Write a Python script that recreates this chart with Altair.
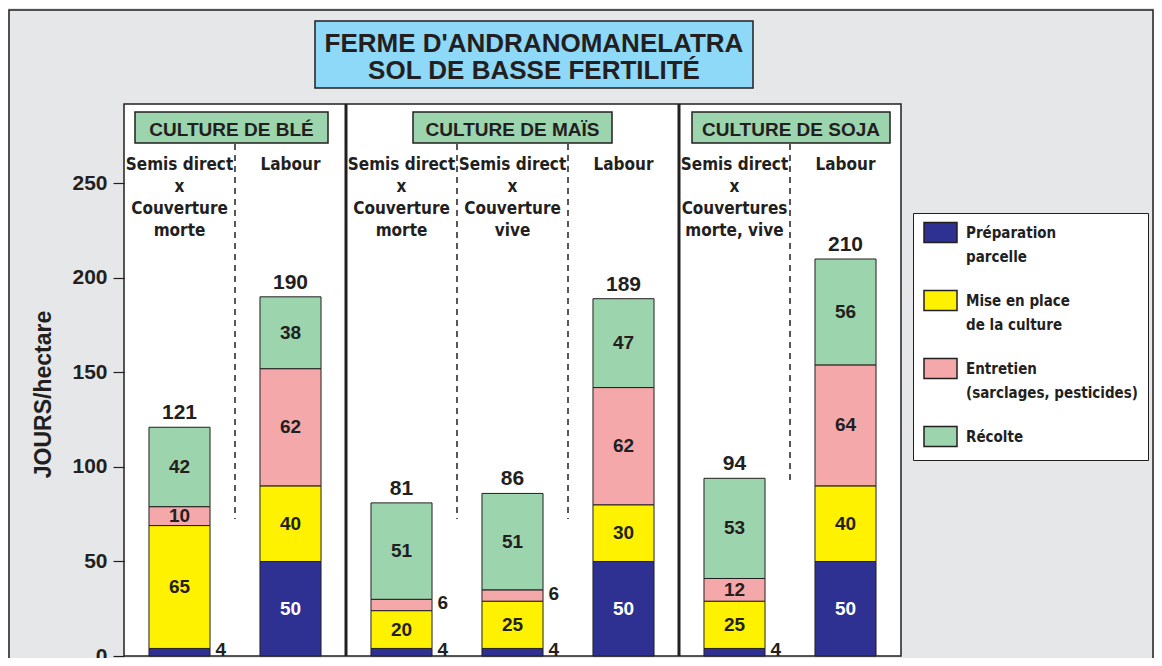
import altair as alt
import pandas as pd

# ---------------- data ----------------
keys = ["ble_sd", "ble_lab", "mais_sdm", "mais_sdv", "mais_lab", "soja_sd", "soja_lab"]
treatments = [
    "Semis direct\nx\nCouverture\nmorte",
    "Labour",
    "Semis direct\nx\nCouverture\nmorte",
    "Semis direct\nx\nCouverture\nvive",
    "Labour",
    "Semis direct\nx\nCouvertures\nmorte, vive",
    "Labour",
]
cultures = ["CULTURE DE BLÉ", "CULTURE DE MAÏS", "CULTURE DE SOJA"]
postes = [
    "Préparation parcelle",
    "Mise en place de la culture",
    "Entretien (sarclages, pesticides)",
    "Récolte",
]
poste_lines = [
    ["Préparation", "parcelle"],
    ["Mise en place", "de la culture"],
    ["Entretien", "(sarclages, pesticides)"],
    ["Récolte"],
]
preparation = [4, 50, 4, 4, 50, 4, 50]
mise_en_place = [65, 40, 20, 25, 30, 25, 40]
entretien = [10, 62, 6, 6, 62, 12, 64]
recolte = [42, 38, 51, 51, 47, 53, 56]
totaux = [121, 190, 81, 86, 189, 94, 210]
y_ticks = [0, 50, 100, 150, 200, 250]

colors = ["#2e3192", "#fff200", "#f5a8aa", "#9cd4ae"]
DARK = "#231f20"
MAIN = "Liberation Sans, Arial, Helvetica, sans-serif"
COND = "DejaVu Sans Condensed, DejaVu Sans, sans-serif"

series = [preparation, mise_en_place, entretien, recolte]
rows = []
for i, k in enumerate(keys):
    base = 0
    for j, p in enumerate(postes):
        v = series[j][i]
        rows.append({"key": k, "poste": p, "order": j, "value": v, "mid": base + v / 2})
        base += v
df = pd.DataFrame(rows)
df_tot = pd.DataFrame({"key": keys, "total": totaux, "treat": treatments})

W, H = 777, 552
xscale = alt.Scale(type="band", domain=keys, paddingInner=0, paddingOuter=0)
yscale = alt.Scale(domain=[0, 292], nice=False, zero=True)
X = alt.X("key:N", scale=xscale, axis=None)

# legend label expression (multi-line)
expr = "[]"
for p, lines in reversed(list(zip(postes, poste_lines))):
    arr = "[" + ",".join("'" + l + "'" for l in lines) + "]"
    expr = f"datum.label == '{p}' ? {arr} : ({expr})"

legend = alt.Legend(
    orient="none", legendX=789, legendY=109, title=None,
    fillColor="white", strokeColor=DARK, padding=10,
    symbolType="M-1,-1.085L1,-1.085L1,0.115L-1,0.115Z", symbolSize=1089,
    symbolStrokeColor=DARK, symbolStrokeWidth=1.5, symbolOpacity=1,
    labelFont=COND, labelFontSize=15, labelFontWeight="bold", labelColor=DARK,
    labelOffset=8, labelLimit=400, labelExpr=expr, rowPadding=22,
    labelBaseline="bottom",
)

yaxis = alt.Axis(
    values=y_ticks, domain=False, grid=False, tickSize=11, tickColor=DARK, tickWidth=1.2,
    labelFont=MAIN, labelFontSize=21, labelFontWeight="bold", labelColor=DARK,
    labelPadding=6, labelFlush=False,
    title="JOURS/hectare", titleFont=MAIN, titleFontSize=23, titleFontWeight="bold",
    titleColor=DARK, titleX=-81, titleY=290, titleAngle=-90, titleAlign="center",
    titleBaseline="middle",
)

one = pd.DataFrame({"a": [0]})

frame = alt.Chart(one).mark_rect(fillOpacity=0, stroke=DARK, strokeWidth=1.5).encode(
    x=alt.value(-115), x2=alt.value(1029), y=alt.value(-94), y2=alt.value(600))

title_box = alt.Chart(one).mark_rect(fill="#8ed8f8", stroke=DARK, strokeWidth=1.5).encode(
    x=alt.value(191), x2=alt.value(629), y=alt.value(-83), y2=alt.value(-16))
title_txt = alt.Chart(pd.DataFrame({"t": [["FERME D'ANDRANOMANELATRA", "SOL DE BASSE FERTILITÉ"]]})).mark_text(
    font=MAIN, fontSize=26, fontWeight="bold", color=DARK, align="center",
    baseline="alphabetic", lineHeight=27).encode(
    text="t", x=alt.value(410), y=alt.value(-52))

header_layers = []
for name, x0, x1 in zip(cultures, [11, 289, 568], [204, 488, 766]):
    header_layers.append(
        alt.Chart(one).mark_rect(fill="#9cd4ae", stroke=DARK, strokeWidth=1.5).encode(
            x=alt.value(x0), x2=alt.value(x1), y=alt.value(8), y2=alt.value(39)))
    header_layers.append(
        alt.Chart(pd.DataFrame({"t": [name]})).mark_text(
            font=MAIN, fontSize=19, fontWeight="bold", color=DARK, align="center",
            baseline="alphabetic").encode(
            text="t", x=alt.value((x0 + x1) / 2), y=alt.value(32)))

sep = alt.Chart(pd.DataFrame({"key": ["mais_sdm", "soja_sd"]})).mark_rule(
    color=DARK, strokeWidth=3).encode(
    x=alt.X("key:N", scale=xscale, axis=None, bandPosition=0),
    y=alt.value(0), y2=alt.value(H))

dash = alt.Chart(pd.DataFrame({
    "key": ["ble_lab", "mais_sdv", "mais_lab", "soja_lab"],
    "top": [270.8, 270.8, 270.8, 270.8],
    "bot": [72.5, 72.5, 72.5, 91.5]})).mark_rule(
    color=DARK, strokeWidth=1.5, strokeDash=[6, 5]).encode(
    x=alt.X("key:N", scale=xscale, axis=None, bandPosition=0),
    y=alt.Y("top:Q", scale=yscale, axis=yaxis), y2="bot:Q")

bars = alt.Chart(df).mark_bar(width=alt.RelativeBandSize(0.55), stroke=DARK, strokeWidth=1).encode(
    x=X,
    y=alt.Y("sum(value):Q", scale=yscale, axis=yaxis, stack="zero"),
    color=alt.Color("poste:N", scale=alt.Scale(domain=postes, range=colors), legend=legend),
    order=alt.Order("order:Q", sort="ascending"),
)

inside = alt.Chart(df).transform_filter(alt.datum.value > 6).mark_text(
    font=MAIN, fontSize=19, fontWeight="bold", align="center", baseline="middle").encode(
    x=X, y=alt.Y("mid:Q", scale=yscale), text="value:Q",
    color=alt.condition(alt.datum.order == 0, alt.value("white"), alt.value(DARK)))

outside = alt.Chart(df).transform_filter(alt.datum.value <= 6).mark_text(
    font=MAIN, fontSize=19, fontWeight="bold", align="left", baseline="middle",
    dx=36, dy=-2, color=DARK).encode(
    x=X, y=alt.Y("mid:Q", scale=yscale), text="value:Q")

totals = alt.Chart(df_tot).mark_text(
    font=MAIN, fontSize=21, fontWeight="bold", align="center", baseline="alphabetic",
    dy=-8, color=DARK).encode(
    x=X, y=alt.Y("total:Q", scale=yscale), text="total:Q")

treat = alt.Chart(df_tot).mark_text(
    font=COND, fontSize=17, fontWeight="bold", align="center", baseline="alphabetic",
    lineBreak="\n", lineHeight=22, color=DARK).encode(
    x=X, y=alt.value(66), text="treat:N")

chart = alt.layer(
    frame, title_box, title_txt, *header_layers, sep, dash, bars, inside, outside, totals, treat
).properties(
    width=W, height=H, autosize="none",
    padding={"left": 116, "top": 96, "right": 253, "bottom": 2},
    background="#e6e7e8",
).configure(
    view={"fill": "white", "stroke": DARK, "strokeWidth": 1.5},
    style={"guide-label": {"lineHeight": 24}},
)

chart.save("out.html", embed_options={"renderer": "svg", "actions": False})
